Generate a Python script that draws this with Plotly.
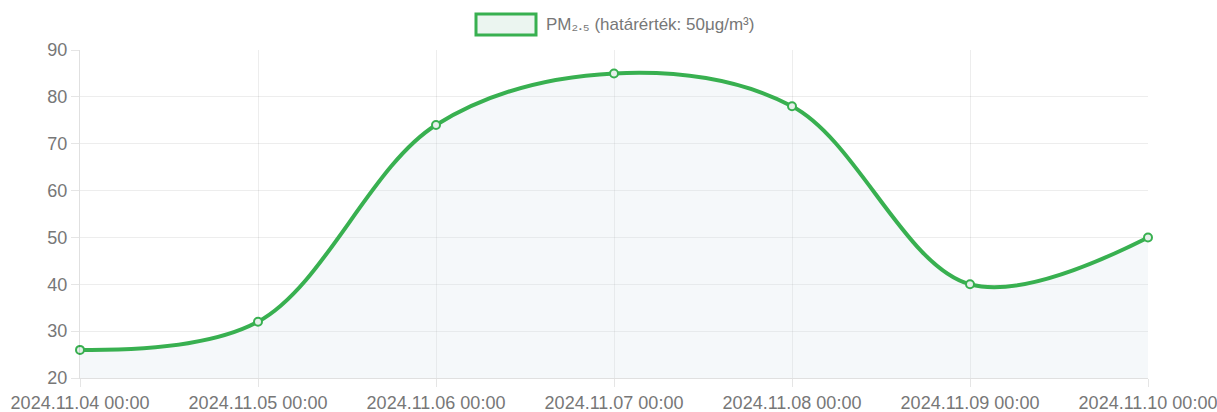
import plotly.graph_objects as go

categories = ["2024.11.04 00:00", "2024.11.05 00:00", "2024.11.06 00:00",
              "2024.11.07 00:00", "2024.11.08 00:00", "2024.11.09 00:00",
              "2024.11.10 00:00"]
pm25 = [26, 32, 74, 85, 78, 40, 50]
y_ticks = [20, 30, 40, 50, 60, 70, 80, 90]
legend_label = "PM₂.₅ (határérték: 50μg/m³)"

green = "rgb(56,176,80)"
font = dict(family="Liberation Sans, Arial, sans-serif", size=18, color="#777")

# plot area in window pixels
PL, PR, PT, PB = 80, 1148, 50, 378
W, H = 1217, 412

fig = go.Figure()
fig.add_trace(go.Scatter(
    x=categories, y=pm25, mode="lines+markers",
    line=dict(color=green, width=4, shape="spline", smoothing=1.0),
    marker=dict(size=8, color="rgba(230,240,235,1)", line=dict(color=green, width=2)),
    fill="tozeroy", fillcolor="rgba(215,228,235,0.25)",
    showlegend=False, cliponaxis=False,
))

def px(xw):
    return (xw - PL) / (PR - PL)

def py(yw):
    return (PB - yw) / (PB - PT)

fig.add_shape(type="rect", xref="paper", yref="paper",
              x0=px(476), x1=px(536), y0=py(35), y1=py(14),
              line=dict(color=green, width=3), fillcolor="rgba(235,245,240,1)")
fig.add_annotation(text=legend_label, xref="paper", yref="paper",
                   x=px(544), y=py(24.5),
                   xanchor="left", yanchor="middle", showarrow=False,
                   font=dict(family=font["family"], size=17, color="#777"))

fig.update_layout(
    width=W, height=H,
    margin=dict(l=PL, r=W - PR, t=PT, b=H - PB, autoexpand=False),
    paper_bgcolor="white", plot_bgcolor="white",
    font=font,
)
fig.update_xaxes(type="category", range=[0, 6], showgrid=True, automargin=False,
                 gridcolor="rgba(0,0,0,0.07)", zeroline=False,
                 showline=True, linecolor="rgba(0,0,0,0.12)",
                 ticks="outside", ticklen=8, tickcolor="rgba(0,0,0,0.1)",
                 tickfont=font)
fig.update_yaxes(range=[20, 90], tickvals=y_ticks, showgrid=True, automargin=False,
                 gridcolor="rgba(0,0,0,0.07)", zeroline=False,
                 showline=True, linecolor="rgba(0,0,0,0.12)",
                 ticks="outside", ticklen=8, tickcolor="rgba(0,0,0,0.1)",
                 tickfont=font)

fig.write_html("out.html", config={"displayModeBar": False},
               post_script="document.body.style.margin='0';document.body.style.overflow='hidden';")
